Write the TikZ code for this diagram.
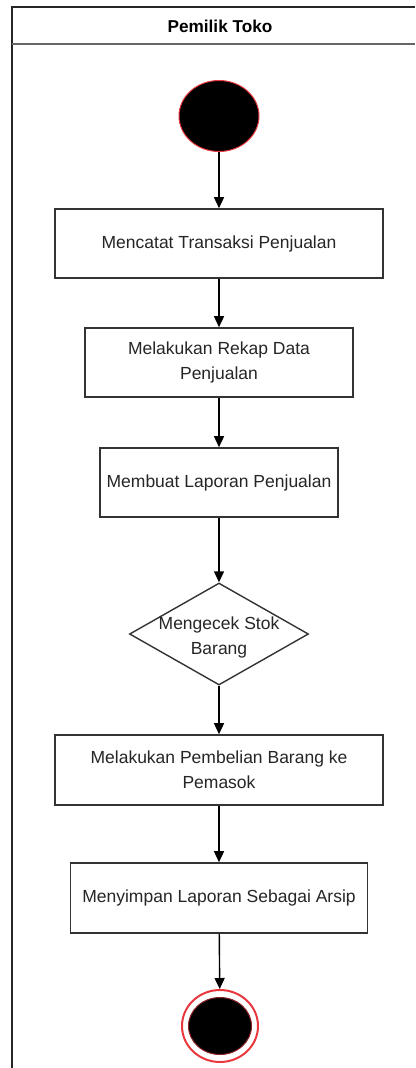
\documentclass[tikz,border=0pt]{standalone}
\usepackage{fontspec}
\setmainfont{Liberation Sans}
\usetikzlibrary{shapes.geometric,arrows.meta}
\definecolor{ink}{HTML}{262626}
\definecolor{edge}{HTML}{333333}
\definecolor{rim}{HTML}{E8383D}
\begin{document}
\begin{tikzpicture}[x=1pt,y=-1pt,
  actbox/.style={draw=edge,line width=1.6pt,fill=white,inner sep=0pt,align=center,text=ink,
    font=\fontsize{17.5}{25}\selectfont},
  decision/.style={draw=edge,line width=1.4pt,diamond,inner sep=0pt,minimum width=179pt,minimum height=102pt,fill=white},
  txt/.style={align=center,text=ink,font=\fontsize{17.5}{25}\selectfont,inner sep=0pt},
  flow/.style={draw=black,line width=1.4pt,-{Triangle[length=11pt,width=10pt]}},
  startdot/.style={ellipse,fill=black,draw=rim,line width=1pt,minimum width=80pt,minimum height=71pt,inner sep=0pt},
  endring/.style={ellipse,fill=white,draw=rim,line width=2pt,minimum width=76pt,minimum height=72pt,inner sep=0pt},
  enddot/.style={ellipse,fill=black,draw=rim!60!black,line width=1pt,minimum width=63pt,minimum height=57pt,inner sep=0pt},
  frame/.style={draw=ink,line width=2.2pt}
]
\useasboundingbox (0,0) rectangle (415,1068);
% swimlane frame
\draw[frame] (12,1068) -- (12,7) -- (415,7);
\draw[draw=gray!80!black,line width=2.6pt] (12,44) -- (415,44);
\node[font=\bfseries\fontsize{17.2}{20}\selectfont,text=black,inner sep=0pt] (lane) at (220,26) {Pemilik Toko};

\node[startdot] (start) at (219,116) {};
\node[actbox,minimum width=328pt,minimum height=69pt] (a1) at (219,243.5) {Mencatat Transaksi Penjualan};
\node[actbox,minimum width=268pt,minimum height=69pt] (a2) at (219,362.5) {Melakukan Rekap Data\\Penjualan};
\node[actbox,minimum width=238pt,minimum height=69pt] (a3) at (219,482.5) {Membuat Laporan Penjualan};
\node[decision] (d) at (219,634) {};
\node[txt] (dt) at (219,637) {Mengecek Stok\\Barang};
\node[actbox,minimum width=328pt,minimum height=70pt] (a4) at (219,770) {Melakukan Pembelian Barang ke\\Pemasok};
\node[actbox,minimum width=297pt,minimum height=70pt] (a5) at (219,898) {Menyimpan Laporan Sebagai Arsip};
\node[endring] (end) at (220,1026) {};
\node[enddot] (endin) at (end.center) {};

\draw[flow] (start) -- (a1);
\draw[flow] (a1) -- (a2);
\draw[flow] (a2) -- (a3);
\draw[flow] (a3) -- (d);
\draw[flow] (d) -- (a4);
\draw[flow] (a4) -- (a5);
\draw[flow] (a5) -- (end);
\end{tikzpicture}
\end{document}
